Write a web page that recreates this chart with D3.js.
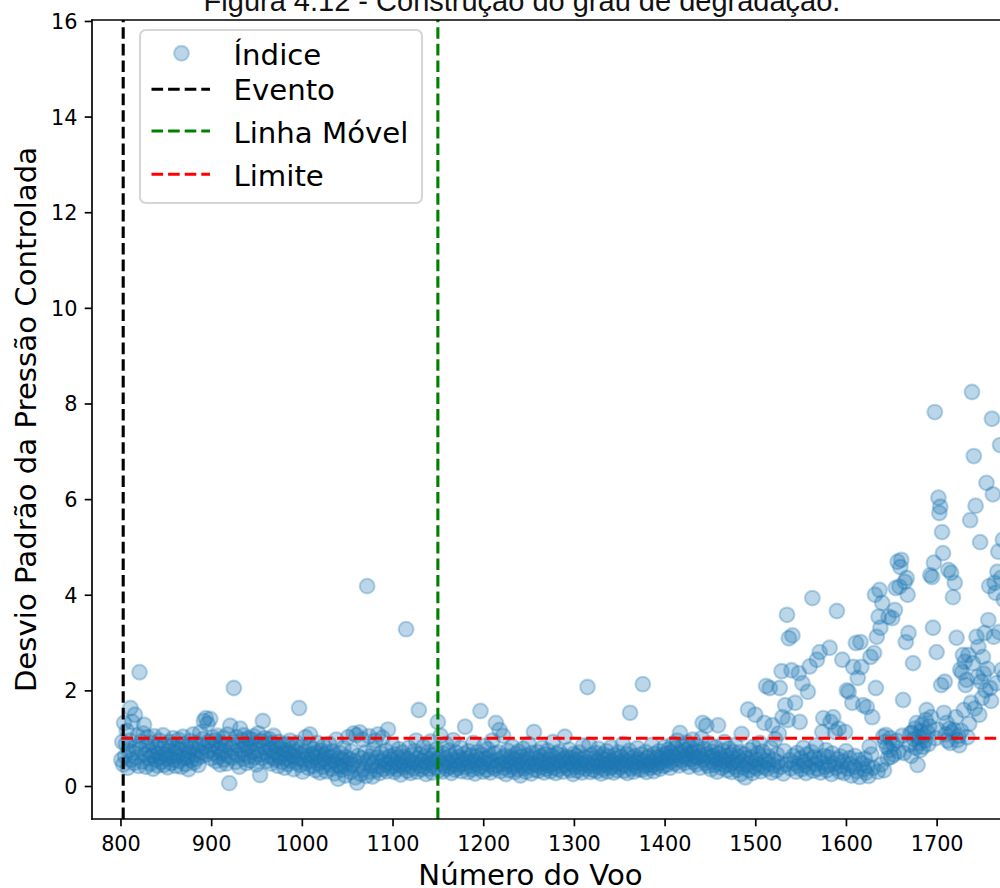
<!DOCTYPE html>
<html>
<head>
<meta charset="utf-8">
<script src="https://cdn.jsdelivr.net/npm/d3@7"></script>
<style>
  body { margin: 0; background: #fff; }
  svg { display: block; }
</style>
</head>
<body>
<script>
// ---- data -------------------------------------------------------------
const firstFlight = 801;               // flights are numbered consecutively from here
const indexValues = [
  0.55, 0.92,
  0.45, 1.32, 0.62, 0.88, 1.15, 0.38, 0.74, 0.95, 1.63, 0.55,
  1.34, 0.70, 0.48, 1.49, 0.82, 0.60, 1.05, 0.42, 2.38, 0.77,
  0.93, 0.51, 1.10, 1.28, 0.66, 0.40, 0.85, 1.02, 0.58, 0.72,
  0.47, 0.90, 0.64, 0.36, 1.04, 0.70, 0.55, 0.81, 0.43, 0.68,
  0.95, 0.60, 0.50, 0.78, 1.06, 0.44, 0.66, 0.86, 0.57, 0.39,
  0.73, 0.92, 0.61, 0.48, 0.84, 1.00, 0.55, 0.69, 0.42, 0.80,
  0.63, 0.97, 0.52, 0.75, 0.40, 0.88, 1.03, 0.58, 0.67, 0.46,
  0.82, 0.60, 0.35, 0.71, 0.94, 0.54, 0.79, 1.08, 0.49, 0.65,
  0.90, 0.57, 0.76, 0.44, 0.86, 1.12, 0.62, 0.70, 0.98, 1.36,
  0.81, 1.42, 0.66, 1.30, 0.93, 0.73, 1.40, 0.58, 0.87, 1.01,
  0.69, 0.95, 0.52, 0.83, 1.05, 0.61, 0.77, 0.45, 0.90, 0.68,
  1.00, 0.55, 0.74, 0.86, 0.47, 1.08, 0.63, 0.06, 1.26, 0.80,
  0.59, 0.92, 2.05, 0.71, 0.50, 1.02, 0.85, 0.64, 0.40, 1.20,
  0.76, 0.96, 0.57, 1.06, 0.68, 0.88, 0.48, 0.79, 1.00, 0.62,
  0.84, 0.53, 0.97, 0.72, 1.04, 0.60, 0.89, 0.45, 0.75, 1.10,
  0.66, 0.23, 0.94, 0.58, 1.36, 0.81, 1.00, 0.70, 0.52, 0.87,
  0.63, 0.98, 0.77, 0.47, 0.90, 0.59, 1.05, 0.71, 0.55, 0.83,
  0.66, 0.42, 0.92, 0.60, 0.78, 0.50, 0.86, 0.68, 0.38, 0.74,
  0.57, 0.88, 0.46, 0.69, 0.95, 0.52, 0.63, 0.80, 0.35, 0.61,
  0.73, 0.49, 0.90, 0.58, 1.63, 0.44, 0.67, 0.82, 0.30, 0.55,
  0.71, 1.02, 0.48, 0.63, 0.38, 0.85, 1.08, 0.53, 0.66, 0.42,
  0.77, 0.59, 0.33, 0.69, 0.90, 0.47, 0.62, 0.28, 0.74, 0.52,
  0.40, 0.83, 0.57, 0.65, 0.31, 0.70, 0.49, 0.88, 0.44, 0.60,
  0.36, 0.73, 0.52, 0.26, 0.64, 0.97, 0.45, 0.15, 0.58, 0.41,
  0.68, 0.34, 0.55, 0.80, 0.43, 0.22, 0.61, 0.48, 1.02, 0.37,
  0.56, 0.29, 0.72, 0.44, 1.10, 0.52, 0.18, 1.06, 0.07, 0.63,
  0.40, 1.12, 0.25, 0.58, 0.97, 0.35, 0.48, 0.70, 0.21, 4.18,
  0.54, 1.04, 0.30, 0.62, 0.43, 0.20, 0.76, 0.50, 0.95, 0.33,
  0.60, 1.08, 0.41, 0.27, 0.68, 0.52, 1.01, 0.36, 0.57, 0.45,
  0.74, 0.31, 1.18, 0.49, 0.62, 0.38, 0.55, 0.85, 0.42, 0.29,
  0.66, 0.48, 0.35, 0.59, 0.77, 0.44, 0.24, 0.53, 0.70, 0.39,
  0.61, 0.46, 3.28, 0.32, 0.56, 0.80, 0.42, 0.27, 0.64, 0.50,
  0.37, 0.73, 0.48, 0.95, 0.30, 0.58, 1.59, 0.43, 0.66, 0.35,
  0.52, 0.82, 0.40, 0.62, 0.25, 0.49, 0.71, 0.36, 0.57, 0.93,
  0.45, 0.28, 0.64, 0.51, 0.39, 0.76, 0.55, 1.34, 0.33, 0.60,
  1.05, 0.47, 0.30, 0.68, 0.42, 0.57, 0.88, 0.36, 0.50, 0.74,
  0.40, 0.63, 0.27, 0.55, 0.96, 0.45, 0.34, 0.70, 0.52, 0.38,
  0.61, 0.44, 0.80, 0.31, 0.56, 0.47, 0.67, 1.24, 0.39, 0.58,
  0.29, 0.73, 0.50, 0.42, 0.64, 0.35, 0.90, 0.53, 0.26, 0.60,
  0.46, 0.71, 0.37, 0.55, 1.57, 0.41, 0.65, 0.30, 0.84, 0.49,
  0.58, 0.34, 0.77, 0.45, 0.62, 0.28, 0.52, 0.95, 0.40, 0.68,
  0.36, 1.32, 0.54, 0.43, 0.70, 1.17, 0.31, 0.59, 0.47, 1.05,
  0.38, 0.63, 0.25, 0.51, 0.74, 0.44, 0.33, 0.60, 0.49, 0.82,
  0.40, 0.56, 0.29, 0.67, 0.45, 0.35, 0.72, 0.52, 0.22, 0.61,
  0.43, 0.78, 0.37, 0.55, 0.30, 0.64, 0.48, 0.88, 0.41, 0.57,
  0.26, 0.69, 0.46, 1.13, 0.34, 0.58, 0.44, 0.71, 0.32, 0.53,
  0.62, 0.39, 0.80, 0.47, 0.28, 0.66, 0.51, 0.36, 0.74, 0.43,
  0.55, 0.31, 0.63, 0.45, 0.92, 0.38, 0.59, 0.27, 0.68, 0.49,
  0.35, 0.72, 0.52, 0.42, 0.64, 0.30, 0.57, 1.03, 0.44, 0.61,
  0.37, 0.50, 0.76, 0.33, 0.58, 0.46, 0.25, 0.67, 0.41, 0.54,
  0.63, 0.32, 0.48, 0.70, 0.39, 0.56, 0.28, 0.85, 0.45, 0.60,
  0.36, 0.51, 2.07, 0.43, 0.86, 0.29, 0.65, 0.48, 0.34, 0.57,
  0.42, 0.69, 0.31, 0.53, 0.78, 0.40, 0.60, 0.26, 0.47, 0.66,
  0.35, 0.55, 0.44, 0.73, 0.30, 0.62, 0.49, 0.38, 0.81, 0.52,
  0.41, 0.28, 0.64, 0.46, 0.57, 0.33, 0.70, 0.50, 0.39, 0.61,
  0.45, 0.88, 0.32, 0.55, 0.43, 0.67, 0.27, 0.52, 0.74, 1.53,
  0.37, 0.59, 0.46, 0.30, 0.63, 0.50, 0.41, 0.79, 0.35, 0.56,
  0.48, 0.66, 0.34, 2.13, 0.53, 0.42, 0.71, 0.29, 0.58, 0.45,
  0.62, 0.38, 0.51, 0.86, 0.44, 0.31, 0.67, 0.55, 0.40, 0.60,
  0.47, 0.73, 0.36, 0.58, 0.50, 0.64, 0.42, 0.82, 0.55, 0.68,
  0.45, 0.76, 0.60, 0.38, 0.70, 0.52, 0.88, 0.63, 0.47, 0.79,
  0.57, 0.95, 0.66, 0.43, 1.11, 0.72, 0.54, 0.83, 0.62, 0.48,
  0.75, 0.58, 0.91, 0.67, 0.40, 0.80, 0.56, 0.69, 0.97, 0.50,
  0.73, 0.61, 0.45, 0.84, 0.59, 0.70, 0.38, 0.64, 1.00, 1.32,
  0.55, 0.77, 0.48, 1.26, 0.66, 0.42, 0.89, 0.60, 0.35, 0.72,
  0.51, 0.63, 0.44, 0.81, 0.57, 0.30, 1.27, 0.68, 0.47, 0.59,
  0.38, 0.74, 0.53, 0.92, 0.43, 0.62, 0.33, 0.56, 0.78, 0.45,
  0.65, 0.29, 0.50, 0.71, 0.40, 0.86, 0.55, 0.34, 0.61, 0.47,
  0.70, 0.25, 1.09, 0.52, 0.39, 0.66, 0.18, 0.58, 0.44, 1.60,
  0.33, 0.75, 0.49, 0.60, 0.27, 0.82, 0.41, 1.49, 0.55, 0.37,
  0.68, 0.45, 0.90, 0.31, 0.57, 0.72, 0.40, 1.32, 0.52, 2.09,
  0.36, 0.62, 0.47, 2.05, 0.80, 0.28, 1.27, 0.55, 0.43, 0.98,
  0.33, 0.66, 0.50, 1.10, 2.05, 0.40, 2.40, 1.44, 0.26, 0.73,
  1.69, 0.45, 3.58, 1.38, 3.09, 0.54, 0.37, 2.42, 3.15, 0.63,
  0.48, 1.74, 0.30, 0.69, 0.42, 2.36, 1.34, 0.58, 0.35, 2.15,
  0.80, 0.51, 0.44, 0.27, 0.66, 1.97, 0.39, 2.50, 0.55, 0.71,
  3.93, 0.32, 0.60, 0.46, 0.85, 2.64, 0.36, 0.57, 2.80, 0.28,
  0.49, 1.13, 1.42, 0.63, 0.40, 0.75, 0.33, 0.61, 0.44, 2.89,
  1.34, 0.25, 0.68, 1.44, 0.47, 1.13, 0.38, 3.66, 0.56, 1.20,
  0.30, 0.62, 0.42, 2.64, 0.51, 0.27, 1.13, 0.73, 2.00, 0.36,
  1.97, 0.58, 0.45, 0.22, 1.74, 2.49, 0.40, 0.63, 2.99, 0.31,
  2.26, 0.54, 0.19, 3.01, 2.49, 0.47, 1.69, 0.35, 0.57, 0.28,
  1.65, 0.42, 0.21, 0.82, 2.70, 0.66, 1.44, 0.38, 2.78, 4.00,
  2.05, 3.12, 0.30, 3.54, 4.10, 3.31, 0.45, 3.83, 1.03, 0.33,
  0.92, 1.07, 0.82, 0.58, 3.54, 0.75, 1.00, 0.61, 3.51, 0.88,
  0.66, 3.68, 4.14, 0.95, 4.69, 0.72, 4.17, 4.58, 4.73, 1.05,
  1.80, 0.69, 4.27, 3.01, 4.35, 4.00, 3.20, 0.86, 1.10, 0.63,
  1.11, 2.57, 0.98, 1.20, 0.80, 1.32, 0.44, 1.02, 0.90, 0.75,
  1.15, 1.28, 0.82, 1.05, 0.95, 1.38, 1.59, 1.12, 0.88, 1.25,
  4.41, 1.44, 4.37, 3.31, 4.67, 7.82, 1.00, 2.80, 1.18, 6.03,
  5.71, 5.84, 2.11, 5.31, 4.87, 1.53, 2.18, 1.08, 1.32, 0.95,
  4.52, 1.20, 0.90, 4.46, 1.12, 3.95, 1.17, 4.25, 1.44, 3.10,
  0.96, 1.05, 0.85, 2.43, 1.15, 2.38, 2.74, 1.59, 2.60, 2.11,
  2.22, 1.02, 2.74, 1.30, 5.56, 1.74, 8.24, 2.57, 6.90, 1.62,
  5.86, 3.12, 2.28, 2.91, 1.49, 5.10, 2.18, 1.84, 2.70, 2.35,
  3.20, 2.00, 6.34, 2.45, 3.47, 4.18, 2.05, 1.78, 7.68, 6.10,
  3.12, 4.25, 4.04, 2.15, 4.48, 4.90, 3.22, 7.13, 4.35, 2.43,
  5.15, 3.90, 2.30
];
const eventFlight = 803;          // "Evento"
const movingLineFlight = 1150;    // "Linha Móvel"
const limitValue = 1.0;           // "Limite"

const xTicks = [800, 900, 1000, 1100, 1200, 1300, 1400, 1500, 1600, 1700];
const yTicks = [0, 2, 4, 6, 8, 10, 12, 14, 16];
const xLimits = [768.6, 1900];
const yLimits = [-0.69, 16.02];

const titleText = "Figura 4.12 - Construção do grau de degradação.";
const xLabelText = "Número do Voo";
const yLabelText = "Desvio Padrão da Pressão Controlada";
const legendLabels = ["Índice", "Evento", "Linha Móvel", "Limite"];

// ---- layout -----------------------------------------------------------
const W = 1000, H = 888;
const plot = { left: 92, top: 20, right: 1118, bottom: 819 };
const BLUE = "#1f77b4";
const FONT = "'DejaVu Sans', sans-serif";
const DASH = "11.6,5";

const points = indexValues.map((v, i) => ({ flight: firstFlight + i, value: v }));

const x = d3.scaleLinear().domain(xLimits).range([plot.left, plot.right]);
const y = d3.scaleLinear().domain(yLimits).range([plot.bottom, plot.top]);

const svg = d3.select("body").append("svg")
  .attr("width", W).attr("height", H)
  .attr("viewBox", `0 0 ${W} ${H}`);

svg.append("defs").append("clipPath").attr("id", "plot-area")
  .append("rect")
  .attr("x", plot.left).attr("y", plot.top)
  .attr("width", plot.right - plot.left).attr("height", plot.bottom - plot.top);

// title
svg.append("text")
  .attr("x", 522).attr("y", 11)
  .attr("text-anchor", "middle")
  .style("font-family", "'Liberation Sans', Arial, sans-serif")
  .style("font-size", "29px")
  .style("fill", "#111")
  .text(titleText);

// scatter
const marks = svg.append("g").attr("clip-path", "url(#plot-area)");
marks.selectAll("circle.idx").data(points).join("circle")
  .attr("class", "idx")
  .attr("cx", d => x(d.flight))
  .attr("cy", d => y(d.value))
  .attr("r", 7.4)
  .attr("fill", BLUE).attr("fill-opacity", 0.3)
  .attr("stroke", BLUE).attr("stroke-opacity", 0.3).attr("stroke-width", 2.1);

// reference lines
marks.append("line")
  .attr("x1", x(eventFlight)).attr("x2", x(eventFlight))
  .attr("y1", plot.bottom).attr("y2", plot.top)
  .attr("stroke", "#000").attr("stroke-width", 3.1).attr("stroke-dasharray", DASH);
marks.append("line")
  .attr("x1", x(movingLineFlight)).attr("x2", x(movingLineFlight))
  .attr("y1", plot.bottom).attr("y2", plot.top)
  .attr("stroke", "#008000").attr("stroke-width", 3.1).attr("stroke-dasharray", DASH);
marks.append("line")
  .attr("x1", x(points[0].flight)).attr("x2", plot.right)
  .attr("y1", y(limitValue)).attr("y2", y(limitValue))
  .attr("stroke", "#ff0000").attr("stroke-width", 3.1).attr("stroke-dasharray", DASH);

// axes
const xAxis = svg.append("g")
  .attr("transform", `translate(0,${plot.bottom})`)
  .call(d3.axisBottom(x).tickValues(xTicks).tickFormat(d3.format("d"))
    .tickSize(7.3).tickSizeOuter(0).tickPadding(9.9));
const yAxis = svg.append("g")
  .attr("transform", `translate(${plot.left},0)`)
  .call(d3.axisLeft(y).tickValues(yTicks).tickFormat(d3.format("d"))
    .tickSize(7.3).tickSizeOuter(0).tickPadding(7.3));
[xAxis, yAxis].forEach(g => {
  g.select(".domain").remove();
  g.selectAll(".tick line").attr("stroke", "#000").attr("stroke-width", 1.67);
  g.selectAll(".tick text")
    .style("font-family", FONT).style("font-size", "20.8px").attr("fill", "#000");
});
yAxis.selectAll(".tick text").attr("dy", "0.36em");

// spines
const spines = svg.append("g").attr("stroke", "#000").attr("stroke-width", 1.67)
  .attr("stroke-linecap", "square");
spines.append("line").attr("x1", plot.left).attr("x2", plot.left)
  .attr("y1", plot.top).attr("y2", plot.bottom);
spines.append("line").attr("x1", plot.left).attr("x2", plot.right)
  .attr("y1", plot.bottom).attr("y2", plot.bottom);
spines.append("line").attr("x1", plot.left).attr("x2", plot.right)
  .attr("y1", plot.top).attr("y2", plot.top);

// axis labels
svg.append("text")
  .attr("x", 530.5).attr("y", 885)
  .attr("text-anchor", "middle")
  .style("font-family", FONT).style("font-size", "29.2px").attr("fill", "#000")
  .text(xLabelText);
svg.append("text")
  .attr("transform", "translate(36,419.5) rotate(-90)")
  .attr("text-anchor", "middle")
  .style("font-family", FONT).style("font-size", "29.2px").attr("fill", "#000")
  .text(yLabelText);

// legend
const legend = svg.append("g");
legend.append("rect")
  .attr("x", 140).attr("y", 30).attr("width", 282).attr("height", 173)
  .attr("rx", 5.8).attr("ry", 5.8)
  .attr("fill", "#fff").attr("fill-opacity", 0.8)
  .attr("stroke", "#ccc").attr("stroke-opacity", 0.8).attr("stroke-width", 2.1);

const legendRows = [
  { label: legendLabels[0], kind: "marker", color: BLUE, handleY: 53.3, baseY: 65 },
  { label: legendLabels[1], kind: "line", color: "#000", handleY: 89.3, baseY: 100 },
  { label: legendLabels[2], kind: "line", color: "#008000", handleY: 131, baseY: 142.7 },
  { label: legendLabels[3], kind: "line", color: "#ff0000", handleY: 174.3, baseY: 186 }
];
legendRows.forEach(r => {
  if (r.kind === "marker") {
    legend.append("circle")
      .attr("cx", 181.5).attr("cy", r.handleY).attr("r", 7.4)
      .attr("fill", BLUE).attr("fill-opacity", 0.3)
      .attr("stroke", BLUE).attr("stroke-opacity", 0.3).attr("stroke-width", 2.1);
  } else {
    legend.append("line")
      .attr("x1", 151.5).attr("x2", 210)
      .attr("y1", r.handleY).attr("y2", r.handleY)
      .attr("stroke", r.color).attr("stroke-width", 3.1).attr("stroke-dasharray", DASH);
  }
  legend.append("text")
    .attr("x", 233.5).attr("y", r.baseY)
    .style("font-family", FONT).style("font-size", "29.2px").attr("fill", "#000")
    .text(r.label);
});
</script>
</body>
</html>
